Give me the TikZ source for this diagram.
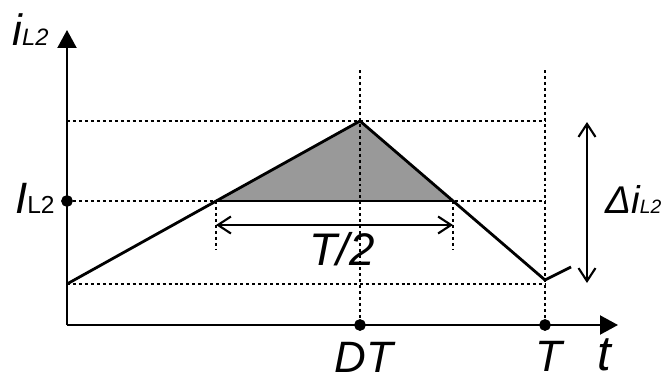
\documentclass[tikz,border=0pt]{standalone}
\usepackage{fontspec}
\setmainfont{Liberation Sans}
\usetikzlibrary{arrows.meta}

\tikzset{
  guide/.style={line width=1.1pt, dash pattern=on 1.7pt off 1.7pt},
  wave/.style={line width=1.6pt},
  axis/.style={line width=1.2pt, -{Triangle[width=0.38cm,length=0.36cm]}},
  span/.style={line width=1.2pt, {Straight Barb[length=0.26cm,width=0.34cm]}-{Straight Barb[length=0.26cm,width=0.34cm]}},
  lbl/.style={inner sep=0pt, anchor=base},
}
\newcommand{\fsz}[1]{\fontsize{#1}{#1}\selectfont}

\begin{document}
\begin{tikzpicture}[x=0.02cm,y=-0.02cm]
\useasboundingbox (0,0) rectangle (667,379);
\coordinate (o) at (67,325);
\coordinate (ytop) at (67,30);
\coordinate (xend) at (618,325);
\coordinate (a) at (67,284);
\coordinate (p) at (360,121);
\coordinate (q) at (545,280);
\coordinate (r) at (571,267);
\coordinate (l) at (216,201);
\coordinate (m) at (453,201);
\coordinate (lb) at (216,250);
\coordinate (mb) at (453,250);
\coordinate (il) at (67,201);
\coordinate (pl) at (67,121);
\coordinate (pr) at (545,121);
\coordinate (ir) at (545,201);
\coordinate (ar) at (545,284);
\coordinate (dt) at (360,325);
\coordinate (tt) at (545,325);
\coordinate (dtup) at (360,70);
\coordinate (ttup) at (545,70);
\coordinate (du) at (587,122);
\coordinate (dd) at (587,283);
\coordinate (hl) at (216,225);
\coordinate (hr) at (453,225);

\fill[black!40] (l)--(p)--(m)--cycle;
\draw[guide] (pl)--(pr);
\draw[guide] (il)--(ir);
\draw[guide] (a)--(ar);
\draw[guide] (dtup)--(dt);
\draw[guide] (ttup)--(tt);
\draw[guide] (l)--(lb);
\draw[guide] (m)--(mb);
\draw[wave] (l)--(m);
\draw[wave, line join=round] (a)--(p)--(q)--(r);
\draw[axis] (o)--(ytop);
\draw[axis] (o)--(xend);
\draw[span] (hl)--(hr);
\draw[span] (du)--(dd);
\filldraw (il) circle (0.11cm);
\filldraw (dt) circle (0.11cm);
\filldraw (tt) circle (0.11cm);

\node[lbl, anchor=base west] (ylabel) at (12,45) {\fsz{25}\itshape i\fsz{13.5}L2};
\node[lbl, anchor=base east] (ilabel) at (55,213) {\fsz{25}\itshape I\fsz{14}\upshape L2};
\node[lbl] (dtlabel) at (364,372) {\fsz{25}\itshape DT};
\node[lbl] (tlabel) at (549,371) {\fsz{25}\itshape T};
\node[lbl] (xlabel) at (604,370) {\fsz{28}\itshape t};
\node[lbl] (half) at (342,265) {\fsz{26}\itshape T/2};
\node[lbl, anchor=base west] (dlabel) at (605,213) {\fsz{22}\itshape Δi\fsz{11}L2};
\end{tikzpicture}
\end{document}
